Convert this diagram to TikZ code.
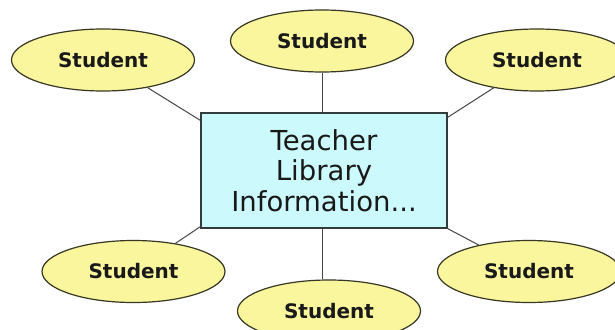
\documentclass[tikz,border=0pt]{standalone}
\usepackage{fontspec}
\setmainfont{DejaVu Sans}
\usetikzlibrary{shapes.geometric}
\definecolor{studentfill}{RGB}{250,246,158}
\definecolor{studentline}{RGB}{55,55,35}
\definecolor{hubfill}{RGB}{204,250,252}
\definecolor{hubline}{RGB}{50,60,60}
\definecolor{spoke}{RGB}{70,70,70}
\definecolor{ink}{RGB}{25,25,25}
\begin{document}
\begin{tikzpicture}[x=1pt,y=-1pt,
  student/.style={ellipse, draw=studentline, fill=studentfill, line width=1.2pt,
    minimum width=183pt, minimum height=62pt, inner sep=0pt,
    text=ink, font=\fontsize{20}{24}\selectfont\bfseries},
  hub/.style={rectangle, draw=hubline, fill=hubfill, line width=1.2pt,
    minimum width=246pt, minimum height=115pt, inner sep=0pt, align=center,
    text=ink, font=\fontsize{27.5}{30.5}\selectfont},
  spokeline/.style={draw=spoke, line width=1pt}]
  \clip (0,0) rectangle (615,329);
  \fill[white] (0,0) rectangle (615,329);

  % central box
  \node[hub] (hub) at (324,170.5) {Teacher\\Library\\Information...};

  % surrounding students
  \node[student] (tl) at (103,60) {Student};
  \node[student] (tc) at (322,41) {Student};
  \node[student] (tr) at (537,60) {Student};
  \node[student] (bl) at (133.5,271.5) {Student};
  \node[student] (bc) at (329,311) {Student};
  \node[student] (br) at (529,271.5) {Student};

  % spokes from the box to each student
  \draw[spokeline] ([yshift=-8pt]hub.north west) -- (tl);
  \draw[spokeline] (hub.north -| tc) -- (tc);
  \draw[spokeline] ([yshift=-5pt]hub.north east) -- (tr);
  \draw[spokeline] ([yshift=2pt]hub.south west) -- (bl);
  \draw[spokeline] (hub.south -| tc) -- (bc.north -| tc);
  \draw[spokeline] (hub.south east) -- (br);
\end{tikzpicture}
\end{document}
